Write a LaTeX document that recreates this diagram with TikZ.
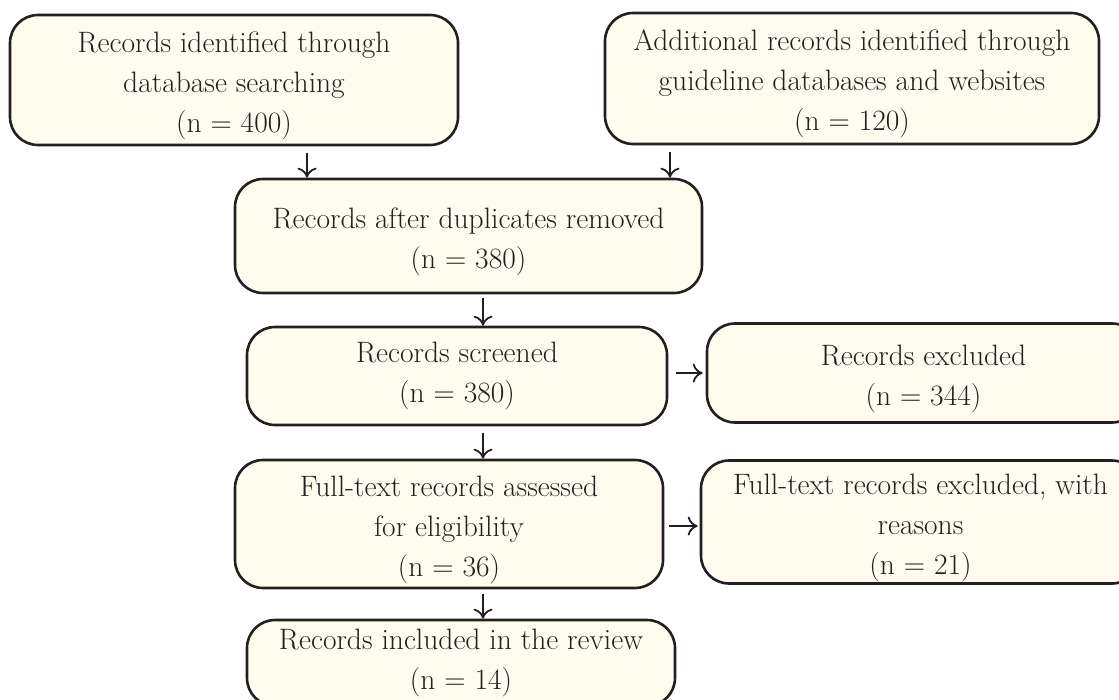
\documentclass[tikz,border=0pt]{standalone}
\usepackage{fontspec}
\usetikzlibrary{arrows.meta}
\definecolor{boxfill}{HTML}{FEFCEE}
\definecolor{ink}{HTML}{231F20}
\newcommand{\fststrut}{\rule{0pt}{32pt}}
\begin{document}
\begin{tikzpicture}[x=1pt,y=-1pt,
  flowbox/.style={draw=ink, fill=boxfill, line width=2.6pt, rounded corners=28pt,
    align=center, text=ink, inner sep=0pt,
    font=\fontsize{29.5}{40}\selectfont},
  arr/.style={draw=ink, line width=1.8pt,
    -{Computer Modern Rightarrow[length=10pt,width=19pt,line width=1.8pt]}}]
\useasboundingbox (0,0) rectangle (1119,699);
\node[flowbox, minimum width=448pt, minimum height=130pt] (b1) at (234,80)
  {\fststrut Records identified through\\database searching\\(n = 400)};
\node[flowbox, minimum width=494pt, minimum height=131pt] (b2) at (852,78.5)
  {\fststrut Additional records identified through\\guideline databases and websites\\(n = 120)};
\node[flowbox, minimum width=467pt, minimum height=114pt] (b3) at (468.5,236)
  {\fststrut Records after duplicates removed\\(n = 380)};
\node[flowbox, minimum width=420pt, minimum height=98pt] (b4) at (457,376)
  {Records screened\\(n = 380)};
\node[flowbox, minimum width=433pt, minimum height=99pt] (b5) at (923.5,373)
  {\fststrut Records excluded\\(n = 344)};
\node[flowbox, minimum width=428pt, minimum height=128pt] (b6) at (449,524)
  {\fststrut Full-text records assessed\\for eligibility\\(n = 36)};
\node[flowbox, minimum width=439pt, minimum height=123pt] (b7) at (920.5,522)
  {\fststrut Full-text records excluded, with\\reasons\\(n = 21)};
\node[flowbox, minimum width=428pt, minimum height=86pt] (b8) at (461,663)
  {Records included in the review\\(n = 14)};
\draw[arr, shorten <=7pt] ([xshift=73pt]b1.south) -- ([xshift=73pt]b1.south |- b3.north);
\draw[arr, shorten <=7pt] ([xshift=-182pt]b2.south) -- ([xshift=-182pt]b2.south |- b3.north);
\draw[arr, shorten <=4pt] ([xshift=14.5pt]b3.south) -- ([xshift=14.5pt]b3.south |- b4.north);
\draw[arr, shorten <=7pt] ([xshift=26pt]b4.south) -- ([xshift=26pt]b4.south |- b6.north);
\draw[arr, shorten <=5pt] ([xshift=34pt]b6.south) -- ([xshift=34pt]b6.south |- b8.north);
\draw[arr, shorten <=8pt, shorten >=3pt] ([yshift=3pt]b4.east) -- ([yshift=3pt]b4.east -| b5.west);
\draw[arr, shorten <=5pt, shorten >=2pt] ([yshift=-2pt]b6.east) -- ([yshift=-2pt]b6.east -| b7.west);
\end{tikzpicture}
\end{document}
